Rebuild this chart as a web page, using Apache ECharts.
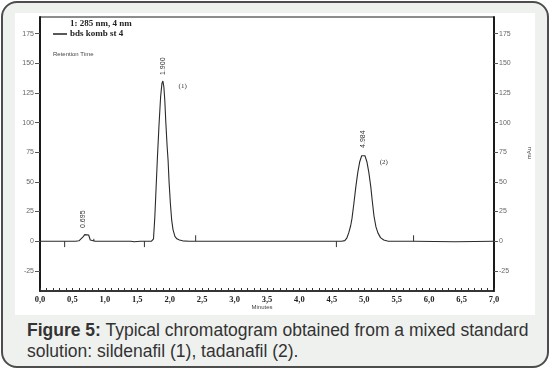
<!DOCTYPE html>
<html>
<head>
<meta charset="utf-8">
<script src="https://cdn.jsdelivr.net/npm/echarts@6/dist/echarts.min.js"></script>
<style>
html,body{margin:0;padding:0;background:#fff;width:551px;height:369px;overflow:hidden;}
#frame{position:absolute;left:1px;top:1px;width:544px;height:363px;border:2px solid #4d4d4d;border-radius:16px;background:#eff1ef;}
#chart{position:absolute;left:15px;top:13px;width:520px;height:302px;background:#fff;}
#cap{position:absolute;left:27px;top:320px;font-family:"Liberation Sans",Arial,sans-serif;font-size:17.5px;line-height:21px;color:#333;white-space:nowrap;}
</style>
</head>
<body>
<div id="frame"></div>
<div id="chart"></div>
<div id="cap"><b>Figure 5:</b> Typical chromatogram obtained from a mixed standard<br>solution: sildenafil (1), tadanafil (2).</div>
<script>
// Chromatogram trace: [time (min), signal (mAu)]
var traceTimes = [0.00,0.30,0.50,0.55,0.60,0.63,0.66,0.69,0.72,0.75,0.77,0.775,0.80,0.85,1.40,1.45,1.55,
  1.72,1.75,1.77,1.79,1.81,1.835,1.86,1.88,1.895,1.91,1.925,1.94,1.96,1.975,1.99,2.01,2.03,2.05,2.08,2.11,2.15,2.20,2.30,
  4.65,4.70,4.73,4.76,4.79,4.81,4.84,4.87,4.90,4.93,4.96,4.985,5.01,5.04,5.07,5.10,5.125,5.15,5.18,5.21,5.25,5.30,5.37,
  5.77,5.78,6.40,6.41,7.00];
var traceValues = [0,0,0,0,0.3,1.5,3.5,5.5,6,5.2,4.5,1,0.5,0,0,-0.5,0,
  0,2,20,45,70,98,122,133,135,130,118,100,80,68,50,32,18,10,4,2,1,0.3,0,
  0,0.5,2.5,7,13,19,32,46,58,67,72,73,72,67,58,46,33,21,12,7,3,1,0,
  0,-0.5,-0.5,0,0];
// Integration event marks on the baseline
var eventTimes = [0.38, 0.83, 1.61, 2.40, 4.57, 5.76];
var eventValues = [-5, 2, -5, 5, -5, 5];
// Peak retention-time labels
var peakTimes = [0.66, 1.90, 4.984];
var peakLabelValues = [18.5, 147.5, 86];
var peakLabels = ['0.695', '1.900', '4.984'];
// Peak identifiers
var idTimes = [2.20, 5.30];
var idValues = [131, 66.6];
var idLabels = ['(1)', '(2)'];
// Axis ticks
var yTicks = [-25, 0, 25, 50, 75, 100, 125, 150, 175];

var trace = traceTimes.map(function (t, i) { return [t, traceValues[i]]; });
var events = eventTimes.map(function (t, i) { return [t, eventValues[i]]; });

var chart = echarts.init(document.getElementById('chart'), null, {renderer: 'canvas'});
var yCommon = function (pos, tickLen) {
  return {
    type: 'value', position: pos, min: -42, max: 189,
    axisLine: {show: true, onZero: false, lineStyle: {color: '#1a1a1a', width: 2}},
    axisTick: {show: true, customValues: yTicks, length: tickLen, lineStyle: {color: '#555', width: 1}},
    axisLabel: {show: true, customValues: yTicks, margin: tickLen + 1, fontSize: 7, color: '#666', fontFamily: 'Liberation Sans'},
    splitLine: {show: false}
  };
};
chart.setOption({
  animation: false,
  grid: {left: 25, top: 4, right: 41, bottom: 24, show: true, borderColor: '#1a1a1a', borderWidth: 1},
  xAxis: {
    type: 'value', min: 0, max: 7, interval: 0.5,
    axisLine: {show: true, onZero: false, lineStyle: {color: '#1a1a1a', width: 1.5}},
    axisTick: {show: true, inside: true, length: 3, lineStyle: {color: '#333'}},
    minorTick: {show: true, splitNumber: 5, length: 3, lineStyle: {color: '#333'}},
    splitLine: {show: false},
    axisLabel: {
      margin: 4, fontSize: 8.5, fontWeight: 'bold', color: '#222', fontFamily: 'Liberation Serif',
      formatter: function (v) { return v.toFixed(1).replace('.', ','); }
    }
  },
  yAxis: [yCommon('left', 5), yCommon('right', 4)],
  series: [
    {
      type: 'line', data: trace, showSymbol: false, symbol: 'none',
      lineStyle: {color: '#2a2a2a', width: 1.1}, silent: true
    },
    {
      type: 'custom', data: events, silent: true,
      renderItem: function (params, api) {
        var p0 = api.coord([api.value(0), 0]);
        var p1 = api.coord([api.value(0), api.value(1)]);
        return {type: 'line', shape: {x1: p0[0], y1: p0[1], x2: p1[0], y2: p1[1]},
          style: {stroke: '#333', lineWidth: 1}};
      }
    }
  ],
  graphic: [
    {type: 'text', left: 55, top: 6, style: {text: '1: 285 nm, 4 nm', font: 'bold 9px "Liberation Serif"', fill: '#222'}},
    {type: 'line', shape: {x1: 38, y1: 21, x2: 52, y2: 21}, style: {stroke: '#222', lineWidth: 1.5}},
    {type: 'text', left: 55, top: 16, style: {text: 'bds komb st 4', font: 'bold 9px "Liberation Serif"', fill: '#222'}},
    {type: 'text', left: 38, top: 38, style: {text: 'Retention Time', font: '6px "Liberation Sans"', fill: '#444'}},
    {type: 'text', x: 247, y: 294, style: {text: 'Minutes', font: '6px "Liberation Sans"', fill: '#444', align: 'center', verticalAlign: 'middle'}},
    {type: 'text', x: 514, y: 140, rotation: Math.PI / 2, style: {text: 'mAu', font: '6px "Liberation Sans"', fill: '#444', align: 'center', verticalAlign: 'middle'}}
  ]
});

var extra = [];
peakTimes.forEach(function (t, i) {
  var p = chart.convertToPixel({gridIndex: 0}, [t, peakLabelValues[i]]);
  extra.push({type: 'text', x: p[0], y: p[1], rotation: Math.PI / 2,
    style: {text: peakLabels[i], font: '7px "Liberation Sans"', fill: '#333', align: 'center', verticalAlign: 'middle'}});
});
idTimes.forEach(function (t, i) {
  var p = chart.convertToPixel({gridIndex: 0}, [t, idValues[i]]);
  extra.push({type: 'text', x: p[0], y: p[1],
    style: {text: idLabels[i], font: '7px "Liberation Serif"', fill: '#333', align: 'center', verticalAlign: 'middle'}});
});
var opt = chart.getOption();
chart.setOption({graphic: opt.graphic[0].elements.concat(extra)});
</script>
</body>
</html>
